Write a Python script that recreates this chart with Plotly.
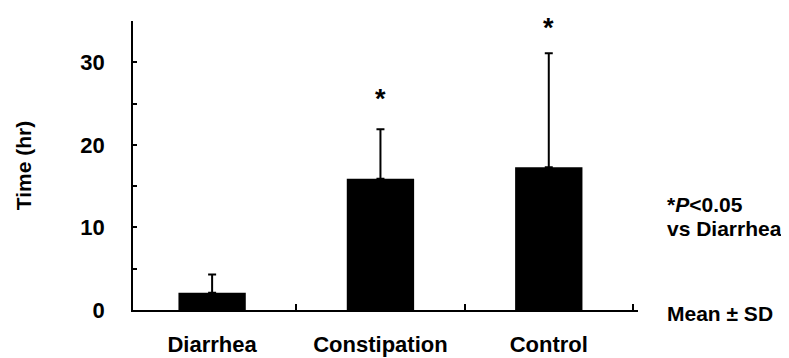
import plotly.graph_objects as go

categories = ["Diarrhea", "Constipation", "Control"]
mean_hr = [2.1, 15.9, 17.3]
sd_hr = [2.2, 6.0, 13.8]
sig_labels = ["", "*", "*"]
sig_y = [None, 25.6, 34.1]
y_tickvals = [0, 5, 10, 15, 20, 25, 30, 35]
y_ticktext = ["0", "", "10", "", "20", "", "30", ""]

FONT = "Liberation Sans, Arial, sans-serif"

fig = go.Figure()
fig.add_trace(go.Bar(
    x=categories, y=mean_hr, width=0.4,
    marker=dict(color="black", line=dict(width=0)),
    error_y=dict(type="data", symmetric=False, array=sd_hr,
                 arrayminus=[0, 0, 0], color="black", thickness=2, width=4),
    showlegend=False,
))

for c, s, yv in zip(categories, sig_labels, sig_y):
    if s:
        fig.add_annotation(x=c, y=yv, text=s, showarrow=False,
                           font=dict(family=FONT, size=27, color="black", weight="bold"),
                           xanchor="center", yanchor="middle")

# right-side notes (paper coords; y as fraction of plot height)
right_notes = [("*<i>P</i>&lt;0.05", 0.366), ("vs Diarrhea", 0.282), ("Mean ± SD", -0.012)]
for t, yv in right_notes:
    fig.add_annotation(xref="paper", yref="paper", x=1.053, y=yv, text=t, showarrow=False,
                       xanchor="left", yanchor="middle",
                       font=dict(family=FONT, size=21, color="black", weight="bold"))

fig.update_layout(
    width=781, height=350,
    margin=dict(l=125, r=151, t=13, b=48),
    paper_bgcolor="white", plot_bgcolor="white",
    font=dict(family=FONT, color="black"),
)
fig.update_xaxes(
    type="category", range=[-0.47, 2.53], automargin=False,
    showline=True, linecolor="black", linewidth=1.5,
    ticks="inside", tickson="boundaries", ticklen=6, tickcolor="black", tickwidth=1.5,
    tickfont=dict(family=FONT, size=22, color="black", weight="bold"),
    ticklabelstandoff=14,
    showgrid=False, zeroline=False,
)
fig.update_yaxes(
    range=[0, 35], tickvals=y_tickvals, ticktext=y_ticktext, automargin=False,
    showline=True, linecolor="black", linewidth=1.5,
    ticks="inside", ticklen=4, tickcolor="black", tickwidth=1.5,
    tickfont=dict(family=FONT, size=22, color="black", weight="bold"),
    ticklabelstandoff=22,
    showgrid=False, zeroline=False,
    title=dict(text="Time (hr)", standoff=43,
               font=dict(family=FONT, size=21, color="black", weight="bold")),
)

fig.write_html("out.html")
